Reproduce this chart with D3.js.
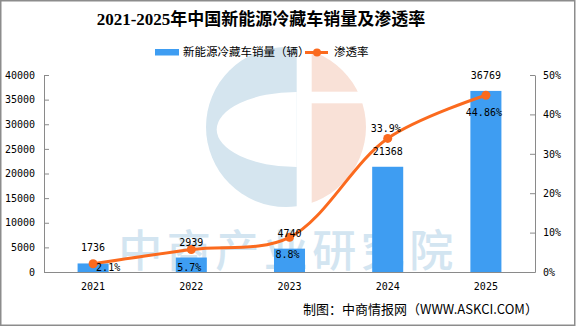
<!DOCTYPE html>
<html>
<head>
<meta charset="utf-8">
<script src="https://cdn.jsdelivr.net/npm/d3@7"></script>
<style>
  html, body { margin: 0; padding: 0; background: #fff; }
  svg { display: block; }
</style>
</head>
<body>
<div id="chart"></div>
<script>
// yearly sales of new-energy refrigerated trucks and their penetration rate
const years = ['2021', '2022', '2023', '2024', '2025'];
const sales = [1736, 2939, 4740, 21368, 36769];
const rates = [2.1, 5.7, 8.8, 33.9, 44.86];
const rateLabels = ['2.1%', '5.7%', '8.8%', '33.9%', '44.86%'];
const salesTicks = [0, 5000, 10000, 15000, 20000, 25000, 30000, 35000, 40000];
const rateTicks = [0, 10, 20, 30, 40, 50];
// where each rate label sits relative to its point
const rateLabelPos = ['right', 'below', 'below', 'above', 'below'];

const width = 576, height = 327;
const plot = { left: 44, right: 535, top: 75, bottom: 272 };
const barColor = '#3e9df2';
const lineColor = '#fb6a1e';
const numFont = '"DejaVu Sans Mono", "Liberation Mono", monospace';
const cjkFont = '"Noto Sans CJK SC", sans-serif';

const svg = d3.select('#chart')
  .append('svg')
  .attr('width', width)
  .attr('height', height);

svg.append('rect')
  .attr('width', width).attr('height', height)
  .attr('fill', '#fff');

// watermark logo + text, sits behind everything
const wm = svg.append('g');
const defs = svg.append('defs');
defs.append('clipPath').attr('id', 'leftHalf')
  .append('rect').attr('x', 0).attr('y', 0).attr('width', 296.7).attr('height', height);
defs.append('clipPath').attr('id', 'rightHalf')
  .append('rect').attr('x', 311.7).attr('y', 0).attr('width', 200).attr('height', height);

wm.append('circle')
  .attr('cx', 286).attr('cy', 127).attr('r', 80)
  .attr('fill', '#d5e5ef')
  .attr('clip-path', 'url(#leftHalf)');
wm.append('ellipse')
  .attr('cx', 296.7).attr('cy', 129.5).attr('rx', 80).attr('ry', 37.5)
  .attr('fill', '#fff')
  .attr('clip-path', 'url(#leftHalf)');
wm.append('circle')
  .attr('cx', 286).attr('cy', 127).attr('r', 80)
  .attr('fill', '#f9e1d7')
  .attr('clip-path', 'url(#rightHalf)');
wm.append('rect')
  .attr('x', 311).attr('y', 91.7).attr('width', 80).attr('height', 11.6)
  .attr('fill', '#fff');
wm.append('text')
  .attr('x', 288).attr('y', 255)
  .attr('text-anchor', 'middle')
  .attr('dominant-baseline', 'middle')
  .style('font-family', cjkFont)
  .style('font-weight', 500)
  .style('font-size', '44px')
  .style('letter-spacing', '4.5px')
  .attr('fill', '#d3e5f1')
  .text('中商产业研究院');

// scales
const x = d3.scaleBand()
  .domain(years)
  .range([plot.left, plot.right])
  .paddingInner(0.684)
  .paddingOuter(0.342);

const y = d3.scaleLinear()
  .domain([0, 40000])
  .range([plot.bottom, plot.top]);

const y2 = d3.scaleLinear()
  .domain([0, 50])
  .range([plot.bottom, plot.top]);

const cx = d => x(d) + x.bandwidth() / 2;

// bars
svg.selectAll('.bar')
  .data(sales)
  .enter()
  .append('rect')
  .attr('class', 'bar')
  .attr('x', (d, i) => x(years[i]))
  .attr('y', d => y(d))
  .attr('width', x.bandwidth())
  .attr('height', d => plot.bottom - y(d))
  .attr('fill', barColor);

// axes
const styleAxis = g => {
  g.selectAll('path, line').attr('stroke', '#8a8a8a');
  g.selectAll('text')
    .attr('fill', '#000')
    .style('font-family', numFont)
    .style('font-size', '10px');
};

svg.append('g')
  .attr('transform', `translate(${plot.left},0)`)
  .call(d3.axisLeft(y).tickValues(salesTicks).tickSizeInner(-5).tickSizeOuter(0).tickPadding(9)
    .tickFormat(d3.format('d')))
  .call(styleAxis);

svg.append('g')
  .attr('transform', `translate(${plot.right},0)`)
  .call(d3.axisRight(y2).tickValues(rateTicks).tickSizeInner(-5).tickSizeOuter(0).tickPadding(8)
    .tickFormat(d => d + '%'))
  .call(styleAxis);

svg.append('g')
  .attr('transform', `translate(0,${plot.bottom})`)
  .call(d3.axisBottom(x).tickSize(0).tickPadding(11))
  .call(styleAxis);

// penetration line
const line = d3.line()
  .x((d, i) => cx(years[i]))
  .y(d => y2(d))
  .curve(d3.curveCatmullRom.alpha(0.5));

svg.append('path')
  .datum(rates)
  .attr('d', line)
  .attr('fill', 'none')
  .attr('stroke', lineColor)
  .attr('stroke-width', 3)
  .attr('stroke-linecap', 'round');

svg.selectAll('.dot')
  .data(rates)
  .enter()
  .append('circle')
  .attr('class', 'dot')
  .attr('cx', (d, i) => cx(years[i]))
  .attr('cy', d => y2(d))
  .attr('r', 4.5)
  .attr('fill', lineColor);

// bar value labels
svg.selectAll('.salesLabel')
  .data(sales)
  .enter()
  .append('text')
  .attr('x', (d, i) => cx(years[i]))
  .attr('y', d => y(d) - 15)
  .attr('text-anchor', 'middle')
  .attr('dominant-baseline', 'middle')
  .style('font-family', numFont)
  .style('font-size', '10px')
  .text(d => d);

// rate labels
svg.selectAll('.rateLabel')
  .data(rates)
  .enter()
  .append('text')
  .attr('x', (d, i) => rateLabelPos[i] === 'right' ? cx(years[i]) + 3 : cx(years[i]) - 2)
  .attr('y', (d, i) => {
    const p = rateLabelPos[i];
    if (p === 'right') return y2(d) + 4.5;
    if (p === 'above') return y2(d) - 9;
    return y2(d) + 18;
  })
  .attr('text-anchor', (d, i) => rateLabelPos[i] === 'right' ? 'start' : 'middle')
  .attr('dominant-baseline', 'middle')
  .style('font-family', numFont)
  .style('font-size', '10px')
  .text((d, i) => rateLabels[i]);

// title
svg.append('text')
  .attr('x', 261).attr('y', 21)
  .attr('text-anchor', 'middle')
  .attr('dominant-baseline', 'middle')
  .style('font-family', '"Liberation Serif", "Noto Sans CJK SC", serif')
  .style('font-weight', 'bold')
  .style('font-size', '17px')
  .text('2021-2025年中国新能源冷藏车销量及渗透率');

// legend
const legend = svg.append('g');
legend.append('rect')
  .attr('x', 155).attr('y', 49).attr('width', 24).attr('height', 6.5)
  .attr('fill', barColor);
legend.append('text')
  .attr('x', 183).attr('y', 52.5)
  .attr('dominant-baseline', 'middle')
  .style('font-family', cjkFont)
  .style('font-size', '11.5px')
  .text('新能源冷藏车销量（辆）');
legend.append('line')
  .attr('x1', 305).attr('x2', 328).attr('y1', 52.5).attr('y2', 52.5)
  .attr('stroke', lineColor).attr('stroke-width', 3);
legend.append('circle')
  .attr('cx', 317).attr('cy', 52.5).attr('r', 4)
  .attr('fill', lineColor);
legend.append('text')
  .attr('x', 334).attr('y', 52.5)
  .attr('dominant-baseline', 'middle')
  .style('font-family', cjkFont)
  .style('font-size', '11.5px')
  .text('渗透率');

// source note
svg.append('text')
  .attr('x', 303).attr('y', 310)
  .attr('dominant-baseline', 'middle')
  .style('font-family', cjkFont)
  .style('font-size', '13px')
  .text('制图：中商情报网（WWW.ASKCI.COM）');

// outer frame
svg.append('rect')
  .attr('x', 0.75).attr('y', 0.75)
  .attr('width', width - 2).attr('height', height - 2.5)
  .attr('fill', 'none')
  .attr('stroke', '#8c8c8c')
  .attr('stroke-width', 1.5);
</script>
</body>
</html>
